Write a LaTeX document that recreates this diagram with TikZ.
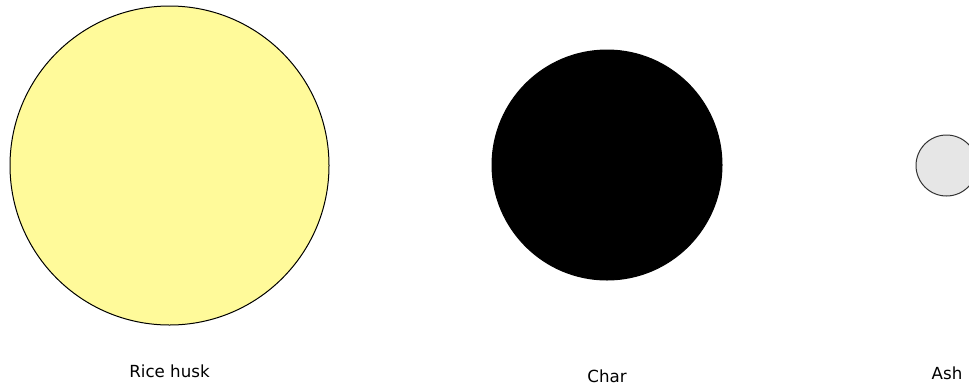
\documentclass[tikz,border=0pt]{standalone}
\usepackage{fontspec}
\setmainfont{DejaVu Sans}
\definecolor{husk}{HTML}{FFFA9A}
\definecolor{ashfill}{HTML}{E6E6E6}
\definecolor{ashline}{HTML}{333333}
\begin{document}
\begin{tikzpicture}[x=0.75pt,y=-0.75pt,
  particle/.style={circle,inner sep=0pt,line width=0.75pt},
  lbl/.style={anchor=base,inner sep=0pt,font=\fontsize{12.5}{14}\selectfont}]
\useasboundingbox (0,0) rectangle (969,386);
\clip (0,0) rectangle (969,386);
\node[particle,draw=black,fill=husk,minimum size=319*0.75pt] (husk) at (169.5,165.5) {};
\node[particle,draw=black,fill=black,minimum size=230*0.75pt] (char) at (607,165) {};
\node[particle,draw=ashline,fill=ashfill,minimum size=61*0.75pt] (ash) at (946.5,165.5) {};
\node[lbl] (huskl) at (169.5,377) {Rice husk};
\node[lbl] (charl) at (607,382) {Char};
\node[lbl] (ashl) at (947,379) {Ash};
\end{tikzpicture}
\end{document}
